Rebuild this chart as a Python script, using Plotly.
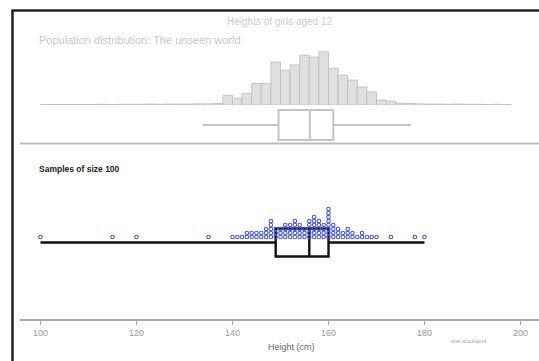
import numpy as np
import plotly.graph_objects as go

W, H = 539, 361

# ---------------- data ----------------
# population histogram (2 cm bins, percent of population)
pop_bin_start = list(range(100, 198, 2))
pop_percent = [0.1, 0.1, 0.1, 0.1, 0.1, 0.1, 0.15, 0.1, 0.15, 0.15,
               0.15, 0.2, 0.15, 0.2, 0.2, 0.2, 0.25, 0.25, 0.3,
               2.0, 1.4, 2.4, 4.4, 4.4, 8.8, 7.1, 8.2, 10.2, 9.8,
               10.9, 7.5, 6.1, 5.1, 3.7, 2.7, 1.0, 0.8, 0.4,
               0.3, 0.25, 0.2, 0.2, 0.15, 0.2, 0.15, 0.15, 0.1, 0.15, 0.1]

# population box summary
pop_box = {"lowerfence": 133.8, "q1": 149.6, "median": 156.1, "q3": 161.0, "upperfence": 177.2}

# one sample of size 100 (heights in cm)
sample_heights = [100, 115, 120, 135, 140, 141, 142, 143, 143, 144, 144, 145, 145, 146, 146,
                  147, 147, 147, 148, 148, 148, 148, 148, 149, 149, 149, 150, 150, 150,
                  151, 151, 151, 151, 152, 152, 152, 152, 153, 153, 153, 153, 153,
                  154, 154, 154, 154, 155, 155, 155, 156, 156, 156, 156, 156,
                  157, 157, 157, 157, 157, 157, 158, 158, 158, 158, 158,
                  159, 159, 159, 159, 160, 160, 160, 160, 160, 160, 160, 160,
                  161, 161, 161, 161, 162, 162, 162, 163, 163, 164, 164, 164,
                  165, 165, 166, 167, 167, 168, 169, 170, 173, 178, 180]

x_ticks = [100, 120, 140, 160, 180, 200]

title_text = "Heights of girls aged 12"
pop_label = "Population distribution: The unseen world"
sample_label = "Samples of size 100"
x_title = "Height (cm)"

# ---------------- helpers ----------------
def px(x):
    return x / W

def py(y):
    return 1 - y / H

k = 4.8  # px per cm
x0 = 100 - 20.5 / k
x1 = x0 + 519 / k

# stacking index for dot plot
counts = {}
stack = []
for v in sample_heights:
    c = counts.get(v, 0)
    stack.append(c)
    counts[v] = c + 1

s = np.array(sample_heights, dtype=float)
q1, med, q3 = np.percentile(s, [25, 50, 75])

fig = go.Figure()

# population histogram
fig.add_trace(go.Bar(
    x=[b + 1 for b in pop_bin_start], y=pop_percent, width=2,
    marker=dict(color="#e0e0e0", line=dict(color="#bdbdbd", width=0.8)),
    xaxis="x", yaxis="y", showlegend=False, hoverinfo="skip"))

# population box
fig.add_trace(go.Box(
    orientation="h", y=[0],
    q1=[pop_box["q1"]], median=[pop_box["median"]], q3=[pop_box["q3"]],
    lowerfence=[pop_box["lowerfence"]], upperfence=[pop_box["upperfence"]],
    width=1.5, whiskerwidth=0, fillcolor="white", line=dict(color="#c4c4c4", width=2),
    xaxis="x", yaxis="y2", showlegend=False, hoverinfo="skip"))

# sample box
fig.add_trace(go.Box(
    orientation="h", y=[-1.375],
    q1=[q1], median=[med], q3=[q3],
    lowerfence=[s.min()], upperfence=[s.max()],
    width=7, whiskerwidth=0, fillcolor="rgba(255,255,255,0)", line=dict(color="#111111", width=2.4),
    xaxis="x", yaxis="y3", showlegend=False, hoverinfo="skip"))

# sample dots
fig.add_trace(go.Scatter(
    x=sample_heights, y=stack, mode="markers",
    marker=dict(symbol="circle-open", size=3.5, color="#4457e6", line=dict(width=1.1, color="#4457e6")),
    xaxis="x", yaxis="y3", showlegend=False, hoverinfo="skip"))

fig.update_layout(
    width=W, height=H, autosize=False,
    margin=dict(l=0, r=0, t=0, b=0),
    paper_bgcolor="white", plot_bgcolor="rgba(0,0,0,0)",
    font=dict(family="Liberation Sans, Arial, sans-serif", color="#888"),
    xaxis=dict(domain=[px(20), 1], range=[x0, x1], anchor="free", position=py(320),
               showgrid=False, zeroline=False, showline=True, linecolor="#aaaaaa", linewidth=2,
               tickmode="array", tickvals=x_ticks, ticktext=[str(t) for t in x_ticks],
               ticks="outside", ticklen=4, tickcolor="#aaaaaa",
               tickfont=dict(size=9, color="#999999")),
    yaxis=dict(domain=[py(105), py(50)], range=[0, 55 / 4.89], visible=False, fixedrange=True),
    yaxis2=dict(domain=[py(145), py(105)], range=[-1, 1], visible=False),
    yaxis3=dict(domain=[py(290), py(190)], range=[-13.25, 11.75], visible=False),
    showlegend=False,
)

shapes = [
    dict(type="line", xref="paper", yref="paper", x0=px(12.5), x1=px(12.5), y0=py(10), y1=py(361),
         line=dict(color="#222222", width=2.5)),
    dict(type="line", xref="paper", yref="paper", x0=px(11.5), x1=px(540), y0=py(10.5), y1=py(10.5),
         line=dict(color="#222222", width=2.5)),
    dict(type="line", xref="paper", yref="paper", x0=px(20), x1=px(540), y0=py(143.5), y1=py(143.5),
         line=dict(color="#bbbbbb", width=2)),
]
fig.update_layout(shapes=shapes)

ann = [
    dict(text=title_text, x=px(280), y=py(22), xanchor="center", yanchor="middle",
         font=dict(size=10, color="#cccccc")),
    dict(text=pop_label, x=px(37), y=py(40), xanchor="left", yanchor="middle",
         font=dict(size=11, color="#c8c8c8")),
    dict(text="<b>" + sample_label + "</b>", x=px(37), y=py(169), xanchor="left", yanchor="middle",
         font=dict(size=8.5, color="#222222")),
    dict(text=x_title, x=px(291), y=py(347), xanchor="center", yanchor="middle",
         font=dict(size=9, color="#666666")),
    dict(text="stat.auckland", x=px(468), y=py(341), xanchor="center", yanchor="middle",
         font=dict(size=6, color="#aaaaaa")),
]
for a in ann:
    a.update(xref="paper", yref="paper", showarrow=False)
fig.update_layout(annotations=ann)

fig.write_html("out.html")
